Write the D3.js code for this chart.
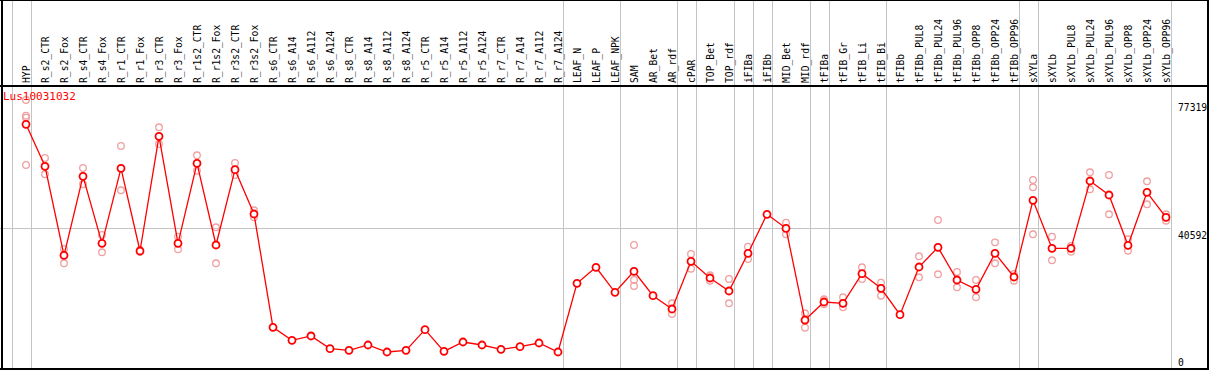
<!DOCTYPE html>
<html>
<head>
<meta charset="utf-8">
<script src="https://cdn.jsdelivr.net/npm/d3@7"></script>
<style>
  body { margin: 0; background: #fff; }
  text { font-family: "DejaVu Sans Mono", monospace; font-size: 11px; }
</style>
</head>
<body>
<div id="chart"></div>
<script>
var width = 1209;
var height = 370;

// samples, in plot order
var categories = ["HYP",
  "R_s2_CTR", "R_s2_Fox", "R_s4_CTR", "R_s4_Fox", "R_r1_CTR", "R_r1_Fox", "R_r3_CTR", "R_r3_Fox",
  "R_r1s2_CTR", "R_r1s2_Fox", "R_r3s2_CTR", "R_r3s2_Fox",
  "R_s6_CTR", "R_s6_A14", "R_s6_A112", "R_s6_A124", "R_s8_CTR", "R_s8_A14", "R_s8_A112", "R_s8_A124",
  "R_r5_CTR", "R_r5_A14", "R_r5_A112", "R_r5_A124", "R_r7_CTR", "R_r7_A14", "R_r7_A112", "R_r7_A124",
  "LEAF_N", "LEAF_P", "LEAF_NPK", "SAM", "AR_Bet", "AR_rdf", "cPAR", "TOP_Bet", "TOP_rdf",
  "iFIBa", "iFIBb", "MID_Bet", "MID_rdf", "tFIBa", "tFIB_Gr", "tFIB_Li", "tFIB_Bi",
  "tFIBb", "tFIBb_PUL8", "tFIBb_PUL24", "tFIBb_PUL96", "tFIBb_OPP8", "tFIBb_OPP24", "tFIBb_OPP96",
  "sXYLa", "sXYLb", "sXYLb_PUL8", "sXYLb_PUL24", "sXYLb_PUL96", "sXYLb_OPP8", "sXYLb_OPP24", "sXYLb_OPP96"];

// last sample of each group (separator drawn after it)
var groupEnds = ["HYP", "R_r7_A124", "LEAF_NPK", "AR_rdf", "cPAR", "TOP_rdf", "iFIBa", "iFIBb",
  "MID_rdf", "tFIBa", "tFIB_Bi", "tFIBb_OPP96", "sXYLa", "sXYLb_OPP96"];

// mean expression
var meanValues = [70330,
  58260, 32680, 55390, 36120, 57690, 33920, 66890, 36120,
  59120, 35640, 57290, 44550,
  11990, 8250, 9490, 5850, 5370, 6900, 4890, 5370,
  11310, 5080, 7760, 6900, 5650, 6420, 7470, 4890,
  24630, 29230, 22050, 28080, 21070, 17250, 30960, 26160, 22420,
  33260, 44470, 40440, 14080, 19260, 18880, 27390, 23200,
  15610, 29320, 34980, 25580, 22910, 33260, 26440,
  48480, 34690, 34690, 54040, 50010, 35560, 50790, 43600];

// individual replicates
var replicates = [[77319, 72810, 72230, 58640],
  [60650, 58260, 55960], [34490, 32680, 30380], [57770, 55390, 53090], [38520, 36120, 33540],
  [64100, 57690, 51360], [34200, 33920, 33600], [69470, 66890, 64670], [38030, 36120, 34410],
  [61420, 59120, 57000], [40730, 35640, 30380], [59210, 57290, 55760], [45620, 44550, 43600],
  [], [], [], [], [], [], [], [],
  [], [], [], [], [], [], [], [],
  [], [], [], [35640, 28080, 25580, 23860], [], [18880, 17250, 15810], [33050, 30960, 28830],
  [26930, 26160, 25380], [25870, 22420, 18880],
  [35150, 33260, 31620], [], [42050, 40440, 38720], [16010, 14080, 11870], [20030, 19260, 18600],
  [20610, 18880, 17740], [29230, 27390, 25870], [24810, 23200, 21070],
  [], [32390, 29320, 26360], [42830, 34980, 27220], [27880, 25580, 23480], [25580, 22910, 20610],
  [36410, 33260, 30380], [27310, 26440, 25380],
  [54320, 52230, 48480, 38720], [38030, 34690, 31240], [35350, 34690, 33720], [56540, 54040, 51650],
  [55760, 50010, 44470], [37280, 35560, 34000], [53950, 50790, 47340], [44470, 43600, 42630]];

var yTicks = [0, 40592, 77319];
var title = "Lus10031032";

var svg = d3.select("#chart")
            .append("svg")
              .attr("width", width)
              .attr("height", height);

var headerBottom = 86;
var plotRight = 1170.5;

var xScale = d3.scalePoint()
               .domain(categories)
               .range([26, 1166]);

var yScale = d3.scaleLinear()
               .domain([0, 77319])
               .range([369, 100]);

var step = xScale.step();

// group separators (run through header too)
svg.selectAll(".sep")
    .data([categories[0]].concat(groupEnds))
    .enter()
  .append("line")
    .attr("class", "sep")
    .attr("x1", function(d, i) { return Math.round((i === 0 ? xScale(d) - step : xScale(d)) + 4.5) + 0.5; })
    .attr("x2", function(d, i) { return Math.round((i === 0 ? xScale(d) - step : xScale(d)) + 4.5) + 0.5; })
    .attr("y1", 0)
    .attr("y2", height)
    .attr("stroke", "#c4c4c4")
    .attr("stroke-width", 1);

// horizontal gridline at middle tick
svg.append("line")
    .attr("x1", 0)
    .attr("x2", plotRight)
    .attr("y1", Math.round(yScale(yTicks[1])) + 0.5)
    .attr("y2", Math.round(yScale(yTicks[1])) + 0.5)
    .attr("stroke", "#c4c4c4")
    .attr("stroke-width", 1);

// frame
svg.append("line").attr("x1", 0).attr("x2", width).attr("y1", 0.5).attr("y2", 0.5)
    .attr("stroke", "#000").attr("stroke-width", 1);
svg.append("line").attr("x1", 0).attr("x2", width).attr("y1", headerBottom).attr("y2", headerBottom)
    .attr("stroke", "#000").attr("stroke-width", 2);
svg.append("line").attr("x1", 0).attr("x2", width).attr("y1", 369).attr("y2", 369)
    .attr("stroke", "#000").attr("stroke-width", 2);
svg.append("line").attr("x1", 2).attr("x2", 2).attr("y1", 0).attr("y2", height)
    .attr("stroke", "#000").attr("stroke-width", 2);
svg.append("line").attr("x1", 1208).attr("x2", 1208).attr("y1", 0).attr("y2", height)
    .attr("stroke", "#000").attr("stroke-width", 2);

// sample labels, vertical
svg.selectAll(".cat-label")
    .data(categories)
    .enter()
  .append("text")
    .attr("class", "cat-label")
    .attr("transform", function(d) {
      return "translate(" + (xScale(d) + 4) + ",83) rotate(-90) scale(0.88,1)";
    })
    .attr("fill", "#000")
    .text(function(d) { return d; });

// right value labels
svg.selectAll(".y-label")
    .data(yTicks)
    .enter()
  .append("text")
    .attr("class", "y-label")
    .attr("x", 1178)
    .attr("y", function(d) { return d === 0 ? 366 : yScale(d) + 11; })
    .attr("transform", function(d) {
      var yy = d === 0 ? 366 : yScale(d) + 11;
      return "translate(" + (1178 * 0.12) + ",0) scale(0.88,1)";
    })
    .attr("fill", "#000")
    .text(function(d) { return d; });

// replicates
var repPoints = [];
categories.forEach(function(c, i) {
  replicates[i].forEach(function(v) {
    repPoints.push({cat: c, value: v});
  });
});

svg.selectAll(".rep")
    .data(repPoints)
    .enter()
  .append("circle")
    .attr("class", "rep")
    .attr("cx", function(d) { return xScale(d.cat); })
    .attr("cy", function(d) { return yScale(d.value); })
    .attr("r", 3.3)
    .attr("fill", "none")
    .attr("stroke", "#f0a0a0")
    .attr("stroke-width", 1.3);

// mean line
var line = d3.line()
             .x(function(d, i) { return xScale(categories[i]); })
             .y(function(d) { return yScale(d); });

svg.append("path")
    .datum(meanValues)
    .attr("d", line)
    .attr("fill", "none")
    .attr("stroke", "#ff0000")
    .attr("stroke-width", 1.3);

svg.selectAll(".mean")
    .data(meanValues)
    .enter()
  .append("circle")
    .attr("class", "mean")
    .attr("cx", function(d, i) { return xScale(categories[i]); })
    .attr("cy", function(d) { return yScale(d); })
    .attr("r", 3.5)
    .attr("fill", "#fff")
    .attr("stroke", "#ff0000")
    .attr("stroke-width", 1.8);

// gene name
svg.append("text")
    .attr("x", 3)
    .attr("y", 100)
    .attr("fill", "#ff0000")
    .text(title);
</script>
</body>
</html>
